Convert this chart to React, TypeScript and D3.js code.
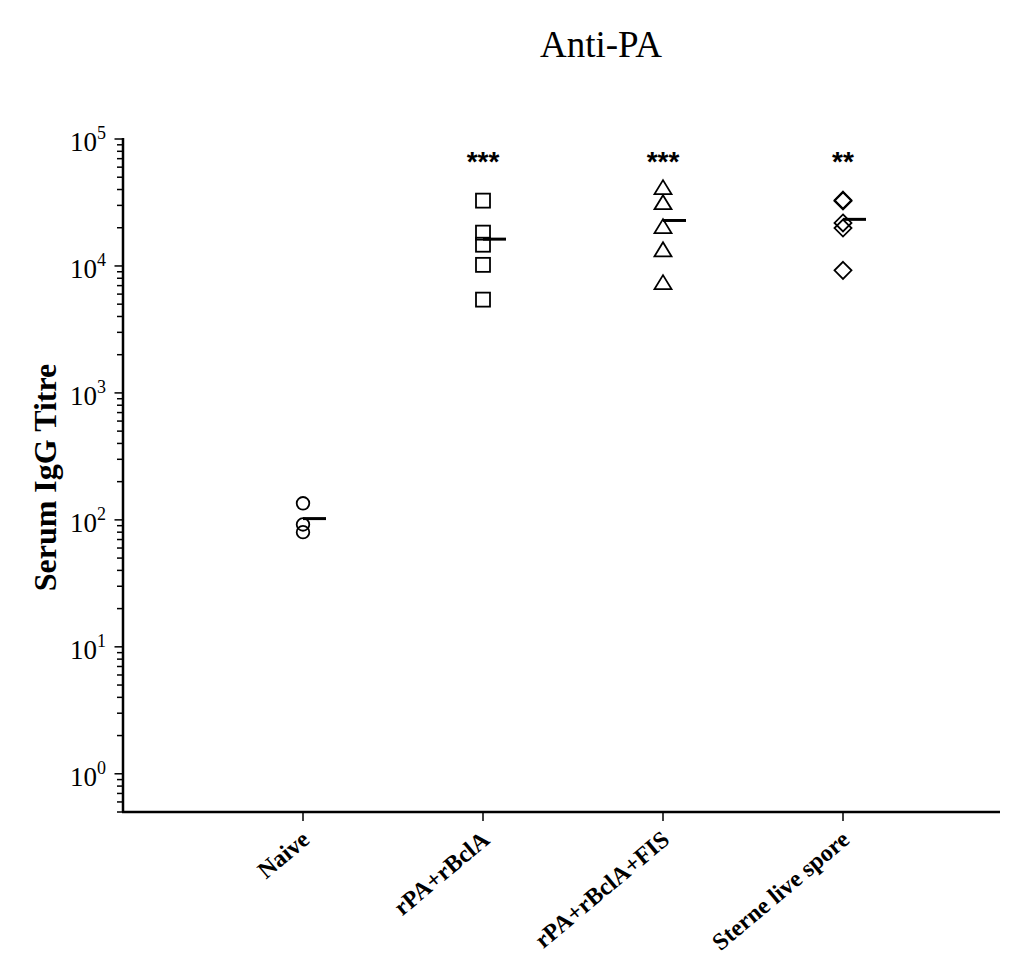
import React from "react";
import * as d3 from "d3";

// Groups and their serum IgG titres (anti-PA)
const categories = ["Naive", "rPA+rBclA", "rPA+rBclA+FIS", "Sterne live spore"];
const naiveTitres = [135, 92, 80];
const rpaBclaTitres = [32700, 18300, 14700, 10200, 5430];
const rpaBclaFisTitres = [41400, 31500, 20400, 13400, 7390];
const sterneTitres = [33000, 32500, 21800, 19900, 9230];
const significance = ["", "***", "***", "**"];
const markerShapes = ["circle", "square", "triangle", "diamond"];
const yTickExponents = [0, 1, 2, 3, 4, 5];

const W = 1012;
const H = 956;
const axisLeft = 123;
const axisRight = 1000;
const axisBottom = 812;
const axisTop = 139;

const groups = [naiveTitres, rpaBclaTitres, rpaBclaFisTitres, sterneTitres];

const x = d3.scalePoint<string>().domain(categories).range([axisLeft, axisLeft + 900]).padding(1);
const y = d3.scaleLog().domain([0.5, 1e5]).range([axisBottom, axisTop]);

const minorTicks: number[] = [];
for (let k = -1; k <= 4; k++) {
  for (let m = 2; m <= 9; m++) {
    const v = m * Math.pow(10, k);
    if (v >= 0.5 && v < 1e5) minorTicks.push(v);
  }
}

function Marker({ shape, cx, cy }: { shape: string; cx: number; cy: number }) {
  const common = { fill: "none", stroke: "#000", strokeWidth: 1.8 };
  if (shape === "circle") return <circle cx={cx} cy={cy} r={6.3} {...common} />;
  if (shape === "square") return <rect x={cx - 7} y={cy - 7} width={14} height={14} {...common} />;
  if (shape === "triangle") {
    const p = `${cx},${cy - 7.5} ${cx + 8.5},${cy + 6.5} ${cx - 8.5},${cy + 6.5}`;
    return <polygon points={p} {...common} />;
  }
  const d = 8.5;
  const p = `${cx},${cy - d} ${cx + d},${cy} ${cx},${cy + d} ${cx - d},${cy}`;
  return <polygon points={p} {...common} />;
}

export default function App() {
  return (
    <svg width={W} height={H} style={{ position: "absolute", left: 0, top: 0, background: "#fff" }}
      fontFamily="'Liberation Serif', 'Times New Roman', serif">
      <rect width={W} height={H} fill="#fff" />
      <text x={601} y={57} fontSize={37} textAnchor="middle">Anti-PA</text>

      {/* y axis */}
      <line x1={axisLeft} x2={axisLeft} y1={axisTop - 1} y2={axisBottom} stroke="#000" strokeWidth={2.5} />
      {minorTicks.map((v, i) => (
        <line key={"m" + i} x1={axisLeft - 6} x2={axisLeft} y1={y(v)} y2={y(v)} stroke="#000" strokeWidth={1.5} />
      ))}
      {yTickExponents.map((e) => (
        <g key={"t" + e}>
          <line x1={axisLeft - 8.5} x2={axisLeft} y1={y(Math.pow(10, e))} y2={y(Math.pow(10, e))} stroke="#000" strokeWidth={1.5} />
          <text x={106} y={y(Math.pow(10, e)) + 12} fontSize={27} textAnchor="end">
            10<tspan fontSize={18} dy={-12}>{e}</tspan>
          </text>
        </g>
      ))}
      <text transform={`translate(56,${(axisTop + axisBottom) / 2 + 2}) rotate(-90)`} fontSize={32}
        fontWeight="bold" textAnchor="middle">Serum IgG Titre</text>

      {/* x axis */}
      <line x1={axisLeft - 1} x2={axisRight} y1={axisBottom} y2={axisBottom} stroke="#000" strokeWidth={2.5} />
      {categories.map((c) => (
        <g key={c}>
          <line x1={x(c)!} x2={x(c)!} y1={axisBottom} y2={axisBottom + 9} stroke="#000" strokeWidth={1.5} />
          <text transform={`translate(${x(c)! + 8},${axisBottom + 30}) rotate(-40)`} fontSize={24}
            fontWeight="bold" textAnchor="end">{c}</text>
        </g>
      ))}

      {/* points, mean bars and significance marks */}
      {groups.map((vals, gi) => {
        const cx = x(categories[gi])!;
        const mean = d3.mean(vals)!;
        return (
          <g key={"g" + gi}>
            {vals.map((v, i) => (
              <Marker key={i} shape={markerShapes[gi]} cx={cx} cy={y(v)} />
            ))}
            <line x1={cx} x2={cx + 23} y1={y(mean)} y2={y(mean)} stroke="#000" strokeWidth={3} />
            {significance[gi] && (
              <text x={cx} y={171} fontSize={28} fontWeight="bold" textAnchor="middle"
                fontFamily="'Liberation Sans', Arial, sans-serif">{significance[gi]}</text>
            )}
          </g>
        );
      })}
    </svg>
  );
}
